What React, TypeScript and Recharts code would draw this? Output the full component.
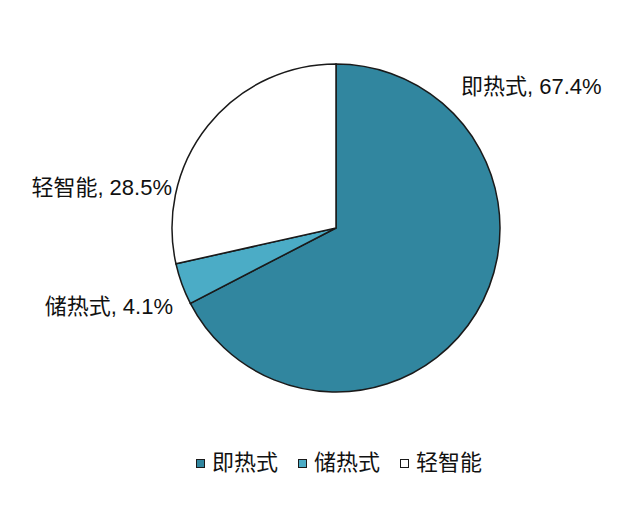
import React from 'react';
import { PieChart, Pie, Cell, Legend } from 'recharts';

const categories = ['即热式', '储热式', '轻智能'];
const shares = [67.4, 4.1, 28.5];
const colors = ['#31869f', '#4bacc6', '#ffffff'];

// where each label sits relative to the pie centre (Excel "best fit" style)
const labelOffsets = [
  { dx: 125, dy: -142, anchor: 'start' },
  { dx: -163, dy: 78, anchor: 'end' },
  { dx: -164, dy: -41, anchor: 'end' },
];

const data = categories.map((name, i) => ({ name, value: shares[i] }));

const FONT = '"Liberation Sans", "Noto Sans CJK SC", sans-serif';

const renderLabel = (props: any) => {
  const { cx, cy, index } = props;
  const off = labelOffsets[index];
  return (
    <text
      x={cx + off.dx}
      y={cy + off.dy}
      textAnchor={off.anchor}
      dominantBaseline="central"
      fill="#111"
      fontSize={22}
      fontFamily={FONT}
    >
      {`${categories[index]}, ${shares[index]}%`}
    </text>
  );
};

const LegendContent = () => (
  <div style={{ display: 'flex', alignItems: 'center', fontFamily: FONT, fontSize: 22, color: '#111' }}>
    {categories.map((c, i) => (
      <div key={c} style={{ display: 'flex', alignItems: 'center', marginRight: i < categories.length - 1 ? 20 : 0 }}>
        <span
          style={{
            width: 7,
            height: 7,
            background: colors[i],
            border: '1px solid #1a1a1a',
            marginRight: 7,
            display: 'inline-block',
          }}
        />
        <span style={{ lineHeight: '26px' }}>{c}</span>
      </div>
    ))}
  </div>
);

export default function App() {
  return (
    <div style={{ position: 'absolute', left: 0, top: 0, width: 640, height: 507, background: '#fff' }}>
      <PieChart width={640} height={507} margin={{ top: 0, right: 0, bottom: 0, left: 0 }}>
        <Pie
          data={data}
          dataKey="value"
          nameKey="name"
          cx={336}
          cy={228}
          outerRadius={164}
          startAngle={90}
          endAngle={-270}
          stroke="#1a1a1a"
          strokeWidth={1.5}
          label={renderLabel}
          labelLine={false}
          isAnimationActive={false}
        >
          {data.map((d, i) => (
            <Cell key={d.name} fill={colors[i]} />
          ))}
        </Pie>
        <Legend
          content={<LegendContent />}
          wrapperStyle={{ position: 'absolute', left: 196, top: 450, width: 'auto' }}
        />
      </PieChart>
    </div>
  );
}
